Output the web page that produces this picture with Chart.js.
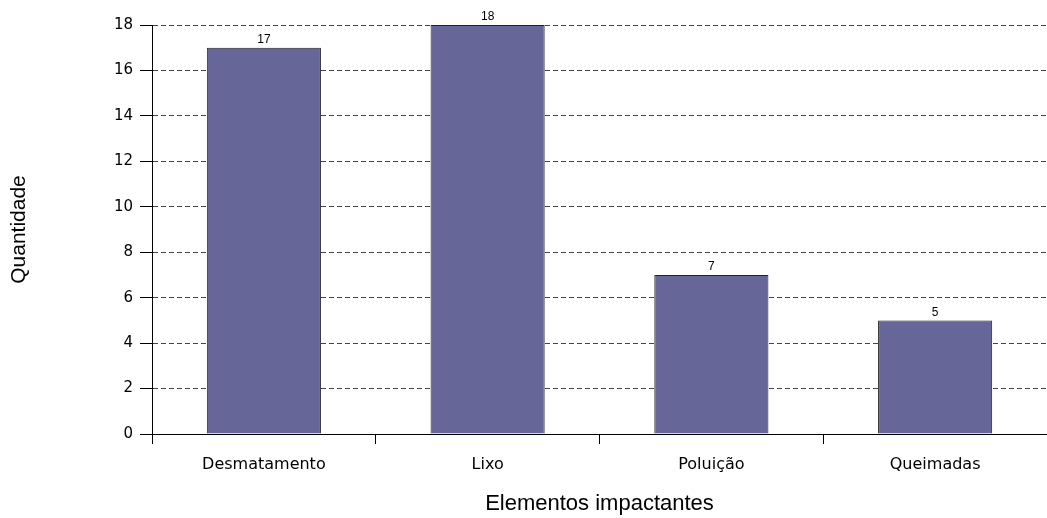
<!DOCTYPE html>
<html>
<head>
<meta charset="utf-8">
<script src="https://cdn.jsdelivr.net/npm/chart.js@4"></script>
<style>
  html, body { margin: 0; padding: 0; background: #fff; }
  #wrap { width: 1047px; height: 518px; }
</style>
</head>
<body>
<div id="wrap"><canvas id="grafico"></canvas></div>
<script>
const categorias = ['Desmatamento', 'Lixo', 'Poluição', 'Queimadas'];
const quantidades = [17, 18, 7, 5];
const yMax = 18;
const yPasso = 2;

const fonte = 'Liberation Sans, Arial, sans-serif';
const fonteTicks = 'DejaVu Sans, sans-serif';

// rótulos de valor em cima das barras
const rotulos = {
  id: 'rotulos',
  afterDatasetsDraw(chart) {
    const ctx = chart.ctx;
    const meta = chart.getDatasetMeta(0);
    ctx.save();
    ctx.font = '12px ' + fonte;
    ctx.fillStyle = '#000';
    ctx.textAlign = 'center';
    ctx.textBaseline = 'bottom';
    meta.data.forEach((bar, i) => {
      ctx.fillText(quantidades[i], bar.x, bar.y - 2);
    });
    ctx.restore();
  }
};

const ctx = document.getElementById('grafico').getContext('2d');

new Chart(ctx, {
  type: 'bar',
  data: {
    labels: categorias,
    datasets: [{
      label: 'Quantidade',
      data: quantidades,
      backgroundColor: '#666699',
      borderColor: '#222',
      borderWidth: 1,
      barPercentage: 0.51,
      categoryPercentage: 1
    }]
  },
  options: {
    responsive: true,
    maintainAspectRatio: false,
    animation: false,
    layout: { padding: { top: 25, right: 0, bottom: 0, left: 0 } },
    plugins: {
      legend: { display: false },
      tooltip: { enabled: false }
    },
    scales: {
      x: {
        afterFit(scale) { scale.height = 84; },
        ticks: {
          color: '#000',
          font: { family: fonteTicks, size: 16 },
          padding: 11
        },
        grid: {
          offset: true,
          drawOnChartArea: false,
          tickLength: 10,
          tickColor: '#000'
        },
        border: { color: '#000', width: 1 },
        title: {
          display: true,
          text: 'Elementos impactantes',
          color: '#000',
          font: { family: fonte, size: 22 },
          padding: { top: 0, bottom: 1 }
        }
      },
      y: {
        min: 0,
        max: yMax,
        afterFit(scale) { scale.width = 152; },
        ticks: {
          stepSize: yPasso,
          color: '#000',
          font: { family: fonteTicks, size: 15 },
          padding: 7
        },
        grid: {
          color: (c) => c.tick && c.tick.value === 0 ? 'rgba(0,0,0,0)' : '#444',
          tickLength: 12,
          tickColor: '#000',
          tickBorderDash: []
        },
        border: { color: '#000', width: 1, dash: [5, 3] },
        title: {
          display: true,
          text: 'Quantidade',
          color: '#000',
          font: { family: fonte, size: 21 },
          padding: { top: 7, bottom: 0 }
        }
      }
    }
  },
  plugins: [rotulos]
});
</script>
</body>
</html>
